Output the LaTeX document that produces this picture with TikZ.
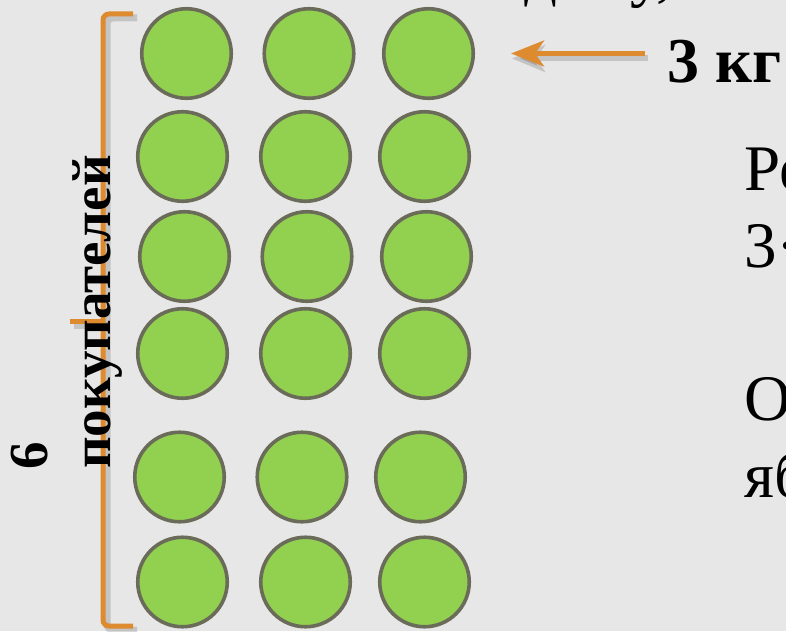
\documentclass[tikz,border=0pt]{standalone}
\usepackage{fontspec}
\setmainfont{Liberation Serif}
\usetikzlibrary{arrows.meta,positioning}
\definecolor{slidebg}{HTML}{E7E7E7}
\definecolor{applegreen}{HTML}{92D050}
\definecolor{appleedge}{HTML}{6A6B59}
\definecolor{braceorange}{HTML}{DE8B2F}

\begin{document}
\begin{tikzpicture}[x=1pt,y=-1pt,
  apple/.style={circle,fill=applegreen,draw=appleedge,line width=3.6pt,minimum size=89.5pt,inner sep=0pt},
  brace/.style={draw=braceorange,line width=5pt,rounded corners=6pt},
  braceshadow/.style={draw=black,opacity=0.15,line width=7pt,rounded corners=6pt},
  pointer/.style={draw=braceorange,line width=5pt,-{Stealth[length=33pt,width=26pt,inset=9pt]}},
  pointershadow/.style={draw=black,opacity=0.15,line width=6pt,-{Stealth[length=33pt,width=27pt,inset=9pt]}},
  slidetext/.style={font=\fontsize{65}{78}\selectfont,anchor=base west,inner sep=0pt},
  sidetext/.style={font=\bfseries\fontsize{55}{63}\selectfont,rotate=90,anchor=base west,inner sep=0pt}]
\fill[slidebg] (0,0) rectangle (786,631);
\useasboundingbox (0,0) rectangle (786,631);
\clip (0,0) rectangle (786,631);
% top line, cut off by the slide edge
\node[slidetext] (top) at (420,-5) {каждому,};
% bracket with its tick
\draw[braceshadow] ([shift={(4,4)}]133,14) -- ++(-30,0) -- ++(0,612) -- ++(30,0);
\draw[braceshadow] ([shift={(4,4)}]103,321) -- ++(-33,0);
\draw[brace] (133,14) -- (103,14) -- (103,626) -- (133,626);
\draw[brace] (103,321) -- (70,321);
% 18 apples, 6 rows of 3
\foreach \r/\y/\xa/\xb/\xc in {1/53.5/186.5/309/428.5,2/156.5/182.5/305.5/424.5,
  3/256.5/184.5/307/426.5,4/353.5/182.5/305.5/424.5,5/477/179.5/302/420.5,6/582/182.5/305.5/424.5}{
  \node[apple] (a\r1) at (\xa,\y) {};
  \node[apple] (a\r2) at (\xb,\y) {};
  \node[apple] (a\r3) at (\xc,\y) {};
}
\node[sidetext] (num) at (47,470) {6};
\node[sidetext] (buyers) at (110,469) {покупателей};
\node[slidetext,font=\bfseries\fontsize{64}{76}\selectfont] (kg) at (667,83) {3 кг};
\coordinate (tail) at (kg.west |- a13.east);
\draw[pointershadow,shorten <=22pt,shorten >=34pt] ([shift={(3,5)}]tail) -- ([shift={(3,5)}]a13.east);
\draw[pointer,shorten <=22pt,shorten >=36pt] (tail) -- (a13.east);
% text on the right, cut off by the slide edge
\node[slidetext] (sol) at (744,190) {Ре};
\node[slidetext] (calc) at (744,267) {3·};
\node[slidetext] (ans) at (744,420) {О};
\node[slidetext] (ans2) at (744,497) {яб};
\end{tikzpicture}
\end{document}
